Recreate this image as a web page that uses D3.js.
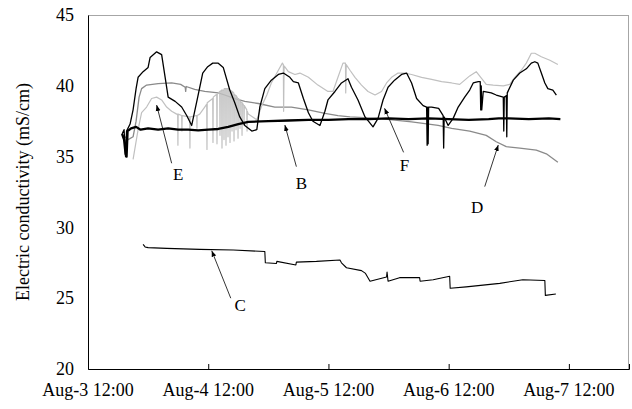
<!DOCTYPE html>
<html>
<head>
<meta charset="utf-8">
<script src="https://cdn.jsdelivr.net/npm/d3@7"></script>
<style>
  body { margin: 0; background: #fff; }
  svg { display: block; font-family: "Liberation Serif", "Times New Roman", serif; }
</style>
</head>
<body>
<svg id="graph" width="632" height="409"></svg>
<script>
// hours after Aug-3 12:00, conductivity (mS/cm)
let series_b = [
  [6.8,36.6],[7.2,36.2],[7.5,35.2],[7.7,35.0],[7.9,36.8],[8.6,37.0],[9.6,37.1],[10.5,36.9],[12,37.0],[14,36.9],
  [16,37.0],[18,36.9],[20,36.9],[22,36.85],[24,36.9],[26,36.95],[28,37.1],[30,37.3],[32,37.45],[36,37.5],
  [40,37.55],[44,37.6],[48,37.6],[52,37.65],[56,37.65],[60,37.7],[64,37.65],[68,37.7],[72,37.65],[76,37.6],
  [80,37.65],[82,37.7],[84,37.7],[88,37.65],[92,37.7],[94.3,37.65]
];
let series_c = [
  [11.0,28.8],[11.4,28.62],[12.0,28.57],[15.7,28.52],[22.3,28.45],[29.0,28.4],[35.3,28.3],[35.4,27.5],[37.6,27.45],
  [37.7,27.6],[41.5,27.35],[41.6,27.55],[45.6,27.6],[50.3,27.7],[50.6,27.5],[51.6,27.15],[54.6,26.95],[55.4,26.75],
  [56.3,26.2],[59.6,26.5],[59.7,26.85],[59.9,26.2],[62.2,26.45],[66.2,26.45],[66.3,26.2],[68.9,26.3],[72.2,26.55],
  [72.3,25.7],[75.5,25.8],[82.2,26.05],[86.8,26.3],[91.2,26.25],[91.3,25.2],[93.4,25.3]
];
let series_d = [
  [7.0,36.5],[8.0,36.2],[9.0,36.4],[9.6,37.5],[10.2,39.2],[10.7,39.8],[11.7,40.05],[14,40.15],[16.7,40.2],[18.5,40.1],
  [19.4,39.9],[19.5,39.6],[19.6,39.95],[21.3,39.75],[23.3,39.6],[26.0,39.5],[27.3,39.35],[29.3,39.1],[31.3,38.9],
  [34.0,38.75],[37.3,38.5],[40.6,38.5],[44.0,38.3],[47.3,38.05],[49.9,37.9],[52.3,37.8],[57.9,37.7],[64.6,37.45],
  [69.9,37.2],[72.6,37.0],[76.2,36.8],[79.5,36.5],[81.5,36.05],[83.5,35.7],[86.2,35.6],[89.5,35.45],[91.5,35.2],[93.8,34.6]
];
let series_e = [
  [9.0,34.8],[10.0,36.9],[10.7,38.1],[11.7,38.5],[12.7,39.1],[13.7,39.2],[14.7,39.0],[15.7,38.5],[16.7,38.2],[17.7,38.0],
  [17.9,38.0],[17.95,35.8],[18.0,38.0],[18.7,37.9],[18.75,36.8],[18.8,37.9],[20.3,37.8],[20.35,35.6],[20.4,37.8],
  [21.7,37.9],[21.75,37.0],[21.8,37.9],[22.3,38.0],[23.3,38.5],[23.7,38.7],[23.75,35.5],[23.8,38.8],[24.9,39.1],
  [24.95,36.0],[25.0,39.2],[25.7,39.4],[25.75,35.9],[25.8,39.4],[26.3,39.6],[26.35,36.5],[26.4,39.6],[26.7,39.7],
  [26.75,35.6],[26.8,39.7],[27.1,39.7],[27.15,36.2],[27.2,39.8],[27.5,39.8],[27.55,35.8],[27.6,39.8],[27.9,39.8],
  [27.95,36.4],[28.0,39.8],[28.3,39.7],[28.35,36.0],[28.4,39.7],[28.7,39.6],[28.75,36.8],[28.8,39.6],[29.1,39.5],
  [29.15,36.1],[29.2,39.4],[29.5,39.3],[29.55,36.9],[29.6,39.3],[29.9,39.1],[29.95,36.3],[30.0,39.1],[30.3,39.0],
  [30.35,37.0],[30.4,38.9],[30.7,38.8],[30.75,36.5],[30.8,38.8],[31.1,38.6],[31.15,37.2],[31.2,38.6],[31.7,38.3],
  [31.75,36.8],[31.8,38.2],[32.0,38.0],[33.7,37.6],[34.7,38.6],[35.7,39.35],[36.6,40.2],[38.0,41.1],[38.8,41.6],
  [39.0,41.5],[39.05,38.2],[39.15,41.4],[40.0,41.0],[41.3,40.8],[42.3,40.9],[44.0,40.6],[45.9,40.05],[47.9,39.6],
  [48.9,39.6],[49.9,40.6],[50.9,41.6],[51.4,41.6],[51.45,39.5],[51.55,41.5],[52.3,41.1],[53.3,40.6],[54.6,40.05],
  [55.9,39.6],[57.3,39.35],[58.6,39.6],[59.6,40.2],[60.6,40.6],[61.9,40.9],[63.2,40.9],[64.6,40.8],[66.6,40.6],
  [68.6,40.45],[70.6,40.3],[72.6,40.2],[74.2,40.1],[76.2,40.7],[77.5,41.0],[78.6,40.5],[79.5,40.1],[80.9,40.05],
  [82.9,40.0],[84.2,40.1],[85.2,40.6],[86.5,41.1],[87.5,41.6],[88.5,42.3],[89.2,42.3],[90.5,42.05],[92.2,41.8],[93.8,41.5]
];
let series_f = [
  [6.8,36.6],[7.2,36.9],[7.5,35.0],[7.7,36.8],[8.4,37.3],[9.0,38.3],[9.6,39.8],[10.0,40.6],[11.0,41.0],[12.0,41.3],
  [12.4,42.0],[13.7,42.4],[14.7,42.2],[15.4,40.6],[16.0,39.2],[17.4,38.9],[18.7,38.5],[19.7,37.9],[20.7,37.2],
  [21.9,39.2],[22.9,40.9],[23.9,41.35],[24.9,41.6],[26.0,41.6],[27.0,41.3],[28.3,39.7],[29.3,38.8],[30.3,37.8],
  [31.3,37.2],[32.7,36.8],[33.7,36.9],[34.3,38.5],[35.3,39.8],[36.6,40.4],[38.0,40.8],[39.0,40.9],[40.3,40.6],
  [41.0,40.3],[42.0,40.2],[43.0,39.1],[44.0,38.1],[44.9,37.5],[46.3,37.2],[47.3,38.2],[47.9,39.0],[49.3,39.6],
  [50.6,40.2],[51.9,40.5],[52.6,39.9],[53.9,39.0],[55.3,37.8],[56.9,37.1],[57.9,37.7],[58.9,39.0],[59.9,39.9],
  [61.2,40.4],[62.6,40.8],[63.6,40.9],[64.6,40.2],[65.6,39.1],[66.9,38.6],[67.6,38.5],[67.7,35.8],[67.8,38.5],
  [67.9,35.9],[68.0,38.5],[68.6,38.5],[70.0,38.4],[70.9,37.9],[71.0,35.6],[71.1,37.8],[71.9,37.2],[72.9,37.7],
  [73.9,38.5],[75.2,39.2],[76.2,39.7],[76.9,40.2],[77.9,40.3],[78.3,40.3],[78.4,38.3],[78.5,40.0],[78.6,38.3],
  [78.9,39.6],[80.5,39.5],[81.5,39.35],[82.9,39.2],[83.0,36.8],[83.1,39.2],[83.5,39.3],[83.6,36.4],[83.7,39.5],
  [84.9,40.4],[86.2,40.9],[87.5,41.2],[88.5,41.6],[89.2,41.7],[89.8,41.6],[90.5,40.9],[91.2,40.2],[91.8,39.8],
  [92.8,39.7],[93.5,39.35]
];

// label text position, arrow start, arrow tip (hours, value)
let label_names = ["E", "B", "F", "D", "C"];
let label_pos = [[18.0,33.79],[42.6,33.15],[63.2,34.41],[77.7,31.46],[30.4,24.54]];
let arrow_from = [[16.7,34.53],[41.6,34.29],[63.0,35.3],[79.2,32.88],[28.5,25.0]];
let arrow_to = [[13.7,38.64],[39.3,37.23],[59.2,38.41],[81.9,35.82],[24.7,28.35]];

let y_ticks = [20, 25, 30, 35, 40, 45];
let x_ticks_days = [0, 1, 2, 3, 4];

let start_time = new Date(2004, 7, 3, 12, 0);
let end_time = new Date(2004, 7, 8, 0, 0);
let hour_to_date = function(h) { return new Date(start_time.getTime() + h * 3600000); };

let layout = { left: 88, top: 15, right: 629, bottom: 369 };

let graph = d3.select("#graph");
let x = d3.scaleTime().domain([start_time, end_time]).range([layout.left, layout.right]);
let y = d3.scaleLinear().domain([20, 45]).range([layout.bottom, layout.top]);

// frame: top and right grey
graph.append("line").attr("x1", layout.left).attr("x2", layout.right).attr("y1", layout.top + 0.5).attr("y2", layout.top + 0.5)
  .style("stroke", "#a6a6a6").style("stroke-width", "1px");
graph.append("line").attr("x1", layout.right - 0.5).attr("x2", layout.right - 0.5).attr("y1", layout.top).attr("y2", layout.bottom)
  .style("stroke", "#a6a6a6").style("stroke-width", "1px");

// axis Y
let axis_y = graph.append("g").attr("transform", "translate(" + layout.left + ",0)")
  .call(d3.axisLeft(y).tickValues(y_ticks).tickSize(0).tickPadding(14).tickFormat(d3.format("d")));
axis_y.attr("font-family", null);
axis_y.select(".domain").style("stroke", "#000");
axis_y.selectAll("text").style("font-size", "18px").attr("fill", "#000");

// axis X
let x_tick_dates = x_ticks_days.map(function(d) { return hour_to_date(d * 24); });
let axis_x = graph.append("g").attr("transform", "translate(0," + layout.bottom + ")")
  .call(d3.axisTop(x).tickValues(x_tick_dates).tickSize(5).tickFormat(function() { return ""; }));
axis_x.select(".domain").style("stroke", "#000");
axis_x.selectAll("line").style("stroke", "#000");
graph.append("g").selectAll("text").data(x_tick_dates).enter().append("text")
  .attr("x", function(d) { return x(d); })
  .attr("y", layout.bottom + 27)
  .attr("text-anchor", "middle")
  .style("font-size", "18px")
  .text(d3.timeFormat("%b-%-d %H:%M"));

graph.append("text")
  .attr("transform", "translate(23," + ((layout.top + layout.bottom) / 2) + ") rotate(-90)")
  .attr("text-anchor", "middle").attr("dy", "0.35em")
  .style("font-size", "18px")
  .text("Electric conductivity (mS/cm)");

// lines
let line = d3.line()
  .x(function(d) { return x(hour_to_date(d[0])); })
  .y(function(d) { return y(d[1]); });

let line_styles = [
  { data: series_d, color: "#8a8a8a", width: 1.3 },
  { data: series_e, color: "#c0c0c0", width: 1.2 },
  { data: series_c, color: "#000", width: 1.1 },
  { data: series_f, color: "#000", width: 1.3 },
  { data: series_b, color: "#000", width: 2.3 }
];
graph.append("g").selectAll("path").data(line_styles).enter().append("path")
  .attr("d", function(d) { return line(d.data); })
  .style("fill", "none")
  .style("stroke", function(d) { return d.color; })
  .style("stroke-width", function(d) { return d.width + "px"; })
  .style("stroke-linejoin", "round");

// arrows and labels
graph.append("defs").append("marker")
  .attr("id", "arrow").attr("viewBox", "0 0 10 10").attr("refX", 10).attr("refY", 5)
  .attr("markerWidth", 6).attr("markerHeight", 6).attr("markerUnits", "userSpaceOnUse").attr("orient", "auto")
  .append("path").attr("d", "M0,1 L10,5 L0,9 Z").style("fill", "#000");

let notes = graph.append("g");
label_names.forEach(function(name, i) {
  notes.append("line")
    .attr("x1", x(hour_to_date(arrow_from[i][0]))).attr("y1", y(arrow_from[i][1]))
    .attr("x2", x(hour_to_date(arrow_to[i][0]))).attr("y2", y(arrow_to[i][1]))
    .style("stroke", "#000").style("stroke-width", "0.8px")
    .attr("marker-end", "url(#arrow)");
  notes.append("text")
    .attr("x", x(hour_to_date(label_pos[i][0]))).attr("y", y(label_pos[i][1]))
    .attr("text-anchor", "middle").attr("dy", "0.35em")
    .style("font-size", "17px")
    .text(name);
});
</script>
</body>
</html>
